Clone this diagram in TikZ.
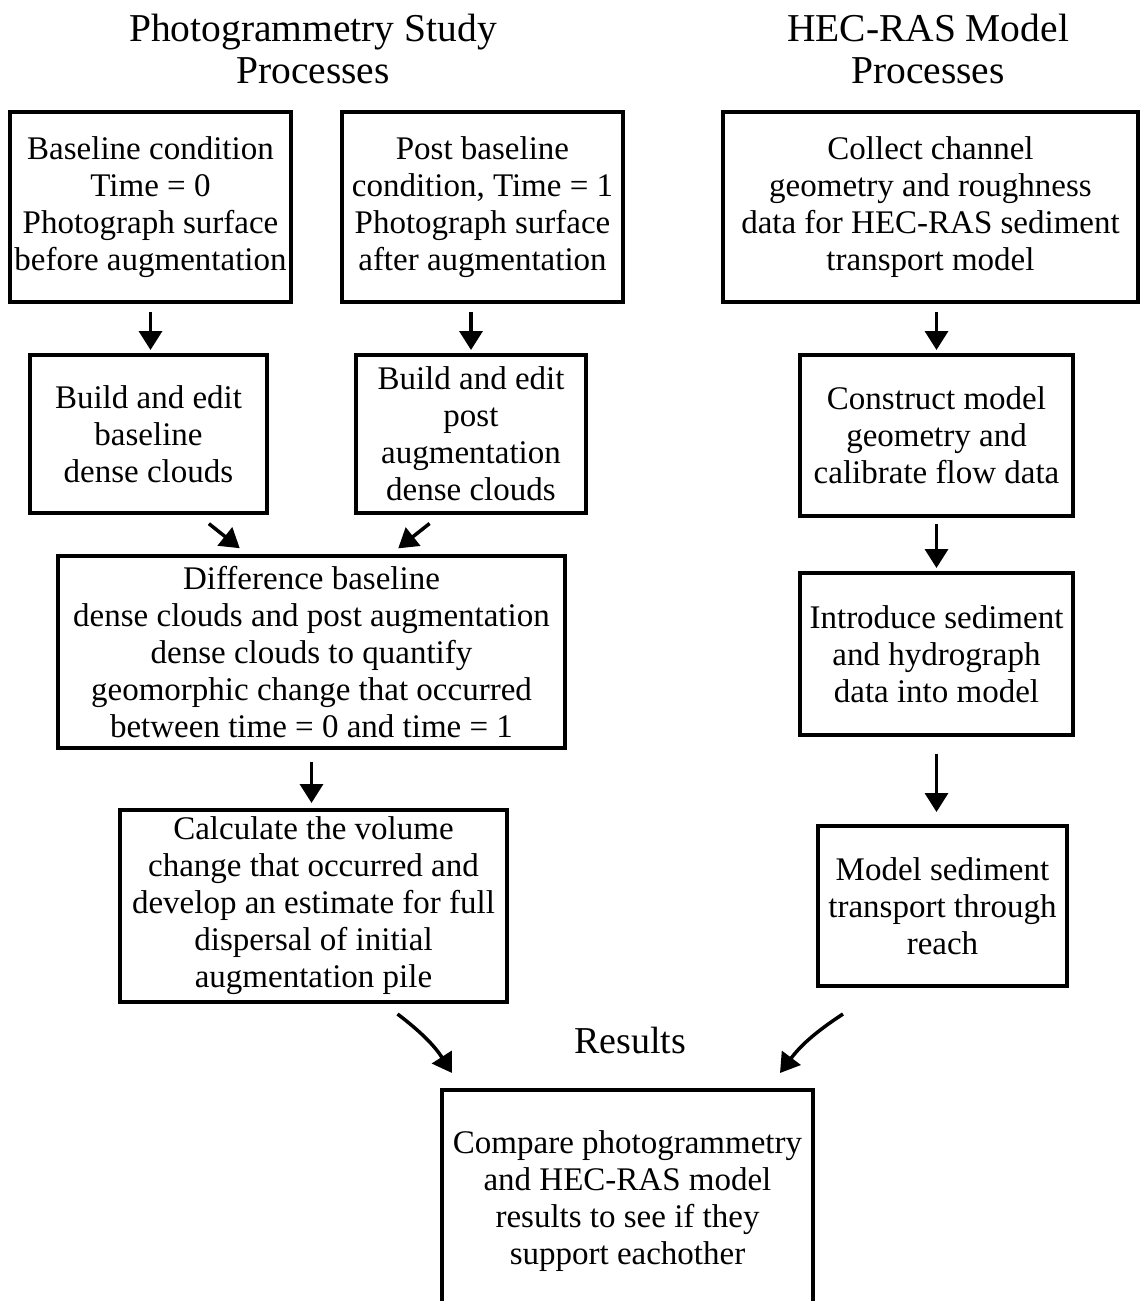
\documentclass[tikz,border=0pt]{standalone}
\usepackage{fontspec}
\setmainfont{Liberation Serif}
\usetikzlibrary{arrows.meta, calc}
\newcommand{\boxfont}{\fontsize{33}{37}\selectfont}
\newcommand{\headfont}{\fontsize{39.5}{42}\selectfont}

\begin{document}
\begin{tikzpicture}[
    x=1pt, y=-1pt,
    procbox/.style={rectangle, draw, line width=4pt, align=center, inner sep=0pt, font=\boxfont},
    heading/.style={align=center, inner sep=0pt, font=\headfont},
    flow/.style={-{Triangle[width=23pt,length=19pt]}, line width=3.5pt}
]

\path[use as bounding box, fill=white] (0,0) rectangle (1141,1301);

\node[heading] (photohead) at (313,49) {Photogrammetry Study\\Processes};
\node[heading] (hechead) at (928,49) {HEC-RAS Model\\Processes};

% photogrammetry side
\node[procbox, minimum width=281pt, minimum height=190pt] (base) at (150.5,207) {Baseline condition\\Time = 0\\Photograph surface\\before augmentation};
\node[procbox, minimum width=281pt, minimum height=190pt] (post) at (482.5,207) {Post baseline\\condition, Time = 1\\Photograph surface\\after augmentation};
\node[procbox, minimum width=237pt, minimum height=158pt] (basecloud) at (148.5,434) {Build and edit\\baseline\\dense clouds};
\node[procbox, minimum width=230pt, minimum height=158pt] (postcloud) at (471,434) {Build and edit\\post\\augmentation\\dense clouds};
\node[procbox, minimum width=507pt, minimum height=192pt] (diff) at (311.5,652) {Difference baseline\\dense clouds and post augmentation\\dense clouds to quantify\\geomorphic change that occurred\\between time = 0 and time = 1};
\node[procbox, minimum width=387pt, minimum height=192pt] (volume) at (313.5,906) {Calculate the volume\\change that occurred and\\develop an estimate for full\\dispersal of initial\\augmentation pile};

% hec-ras side
\node[procbox, minimum width=415pt, minimum height=190pt] (collect) at (930.5,207) {Collect channel\\geometry and roughness\\data for HEC-RAS sediment\\transport model};
\node[procbox, minimum width=273pt, minimum height=161pt] (construct) at (936.5,435.5) {Construct model\\geometry and\\calibrate flow data};
\node[procbox, minimum width=273pt, minimum height=162pt] (introduce) at (936.5,654) {Introduce sediment\\and hydrograph\\data into model};
\node[procbox, minimum width=249pt, minimum height=160pt] (transport) at (942.5,906) {Model sediment\\transport through\\reach};

% results
\node[font=\fontsize{38}{42}\selectfont, inner sep=0pt] (results) at (630,1040) {Results};
\node[procbox, minimum width=371pt, minimum height=222pt] (compare) at (627.5,1201) {Compare photogrammetry\\and HEC-RAS model\\results to see if they\\support eachother};

\draw[flow, shorten <=8pt, shorten >=3pt] (base.south) -- (base.south |- basecloud.north);
\draw[flow, shorten <=8pt, shorten >=3pt] (postcloud.north |- post.south) -- (postcloud.north);
\draw[flow, shorten <=13.9pt, shorten >=9.3pt] ([xshift=-71pt]basecloud.south east) -- ([xshift=-64.5pt]diff.north);
\draw[flow, shorten <=13.7pt, shorten >=9.1pt] ([xshift=-30.7pt]postcloud.south) -- ([xshift=79.6pt]diff.north);
\draw[flow, shorten <=12pt, shorten >=5pt] (diff.south) -- (diff.south |- volume.north);

\draw[flow, shorten <=8pt, shorten >=3pt] (construct.north |- collect.south) -- (construct.north);
\draw[flow, shorten <=6pt, shorten >=3pt] (construct.south) -- (introduce.north);
\draw[flow, shorten <=17pt, shorten >=12pt] (introduce.south) -- (introduce.south |- transport.north);

\draw[flow] ([xshift=84pt,yshift=-10pt]volume.south) to[bend left=10] ([xshift=-175.5pt,yshift=15pt]compare.north);
\draw[flow] ([xshift=-99.5pt,yshift=-26pt]transport.south) to[bend right=10] ([xshift=152.5pt,yshift=15pt]compare.north);

\end{tikzpicture}
\end{document}
